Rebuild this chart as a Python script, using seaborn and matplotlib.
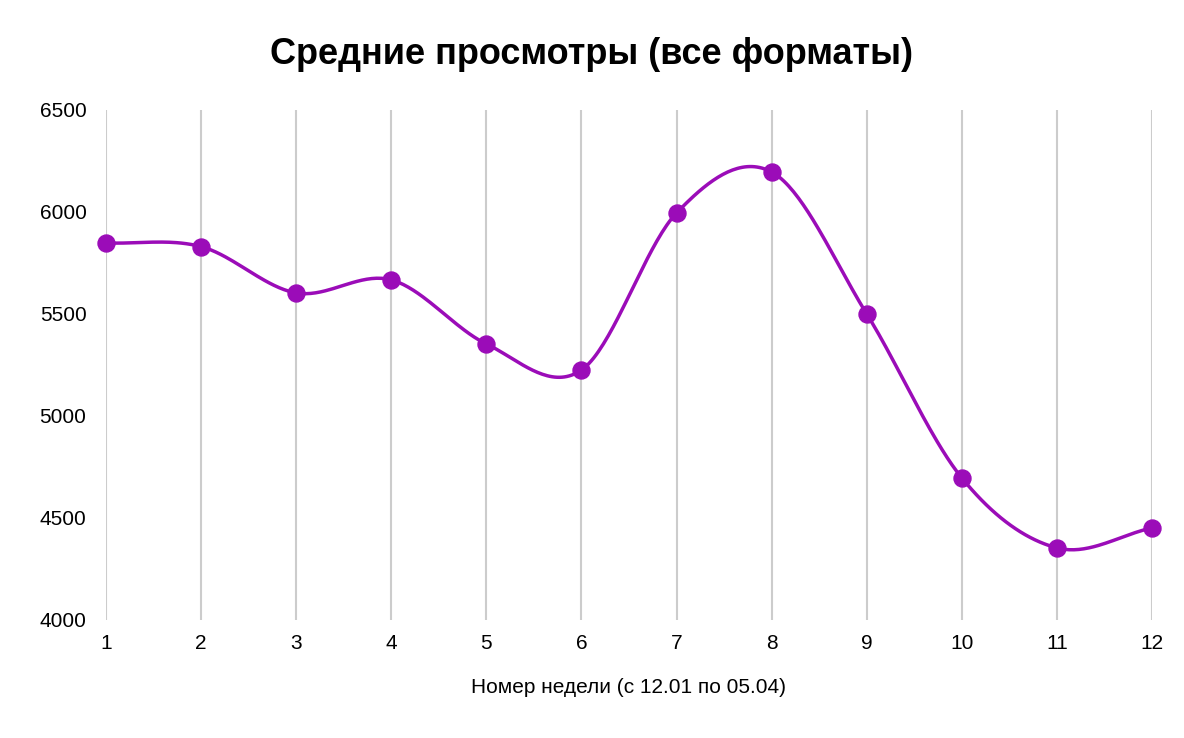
import numpy as np
import pandas as pd
import matplotlib
matplotlib.use("Agg")
import matplotlib.pyplot as plt
import seaborn as sns

weeks = [1, 2, 3, 4, 5, 6, 7, 8, 9, 10, 11, 12]
views = [5848, 5830, 5603, 5667, 5353, 5225, 5995, 6196, 5500, 4696, 4353, 4451]

sns.set_style("white")
plt.rcParams['font.family'] = ['Liberation Sans', 'DejaVu Sans']
plt.rcParams['text.color'] = 'black'
plt.rcParams['axes.labelcolor'] = 'black'
plt.rcParams['xtick.color'] = 'black'
plt.rcParams['ytick.color'] = 'black'

color = "#9b0cb8"


def catmull_rom(x, y, n=40):
    # smoothing for display only, passes through every data point
    x = np.asarray(x, float)
    y = np.asarray(y, float)
    px = np.concatenate([[2 * x[0] - x[1]], x, [2 * x[-1] - x[-2]]])
    py = np.concatenate([[2 * y[0] - y[1]], y, [2 * y[-1] - y[-2]]])
    xs, ys = [], []
    for i in range(1, len(px) - 2):
        t = np.linspace(0, 1, n)
        for arr, out in ((px, xs), (py, ys)):
            p0, p1, p2, p3 = arr[i - 1], arr[i], arr[i + 1], arr[i + 2]
            out.append(0.5 * (2 * p1 + (-p0 + p2) * t
                              + (2 * p0 - 5 * p1 + 4 * p2 - p3) * t ** 2
                              + (-p0 + 3 * p1 - 3 * p2 + p3) * t ** 3))
    return np.concatenate(xs), np.concatenate(ys)


df = pd.DataFrame({"week": weeks, "views": views})

fig = plt.figure(figsize=(11.84, 7.38), dpi=100)
ax = fig.add_axes([0.0895, 0.160, 0.8835, 0.691])

sx, sy = catmull_rom(weeks, views)
ax.plot(sx, sy, color=color, lw=2.5, zorder=3, clip_on=False)
sns.scatterplot(data=df, x="week", y="views", ax=ax, color=color, s=150,
                edgecolor=color, zorder=4, clip_on=False, legend=False)

ax.set_xlim(1, 12)
ax.set_ylim(4000, 6500)
ax.set_xticks(weeks)
ax.set_yticks([4000, 4500, 5000, 5500, 6000, 6500])
ax.xaxis.grid(True, color="#cccccc", lw=1.5)
ax.yaxis.grid(False)
for s in ax.spines.values():
    s.set_visible(False)
ax.tick_params(length=0, labelsize=15, pad=10)
ax.tick_params(axis="y", pad=14)
ax.set_xlabel("Номер недели (с 12.01 по 05.04)", fontsize=15, labelpad=18)
ax.set_ylabel("")
fig.suptitle("Средние просмотры (все форматы)", fontsize=26, fontweight="bold",
             x=0.5, y=0.95)

plt.savefig("out.png")
